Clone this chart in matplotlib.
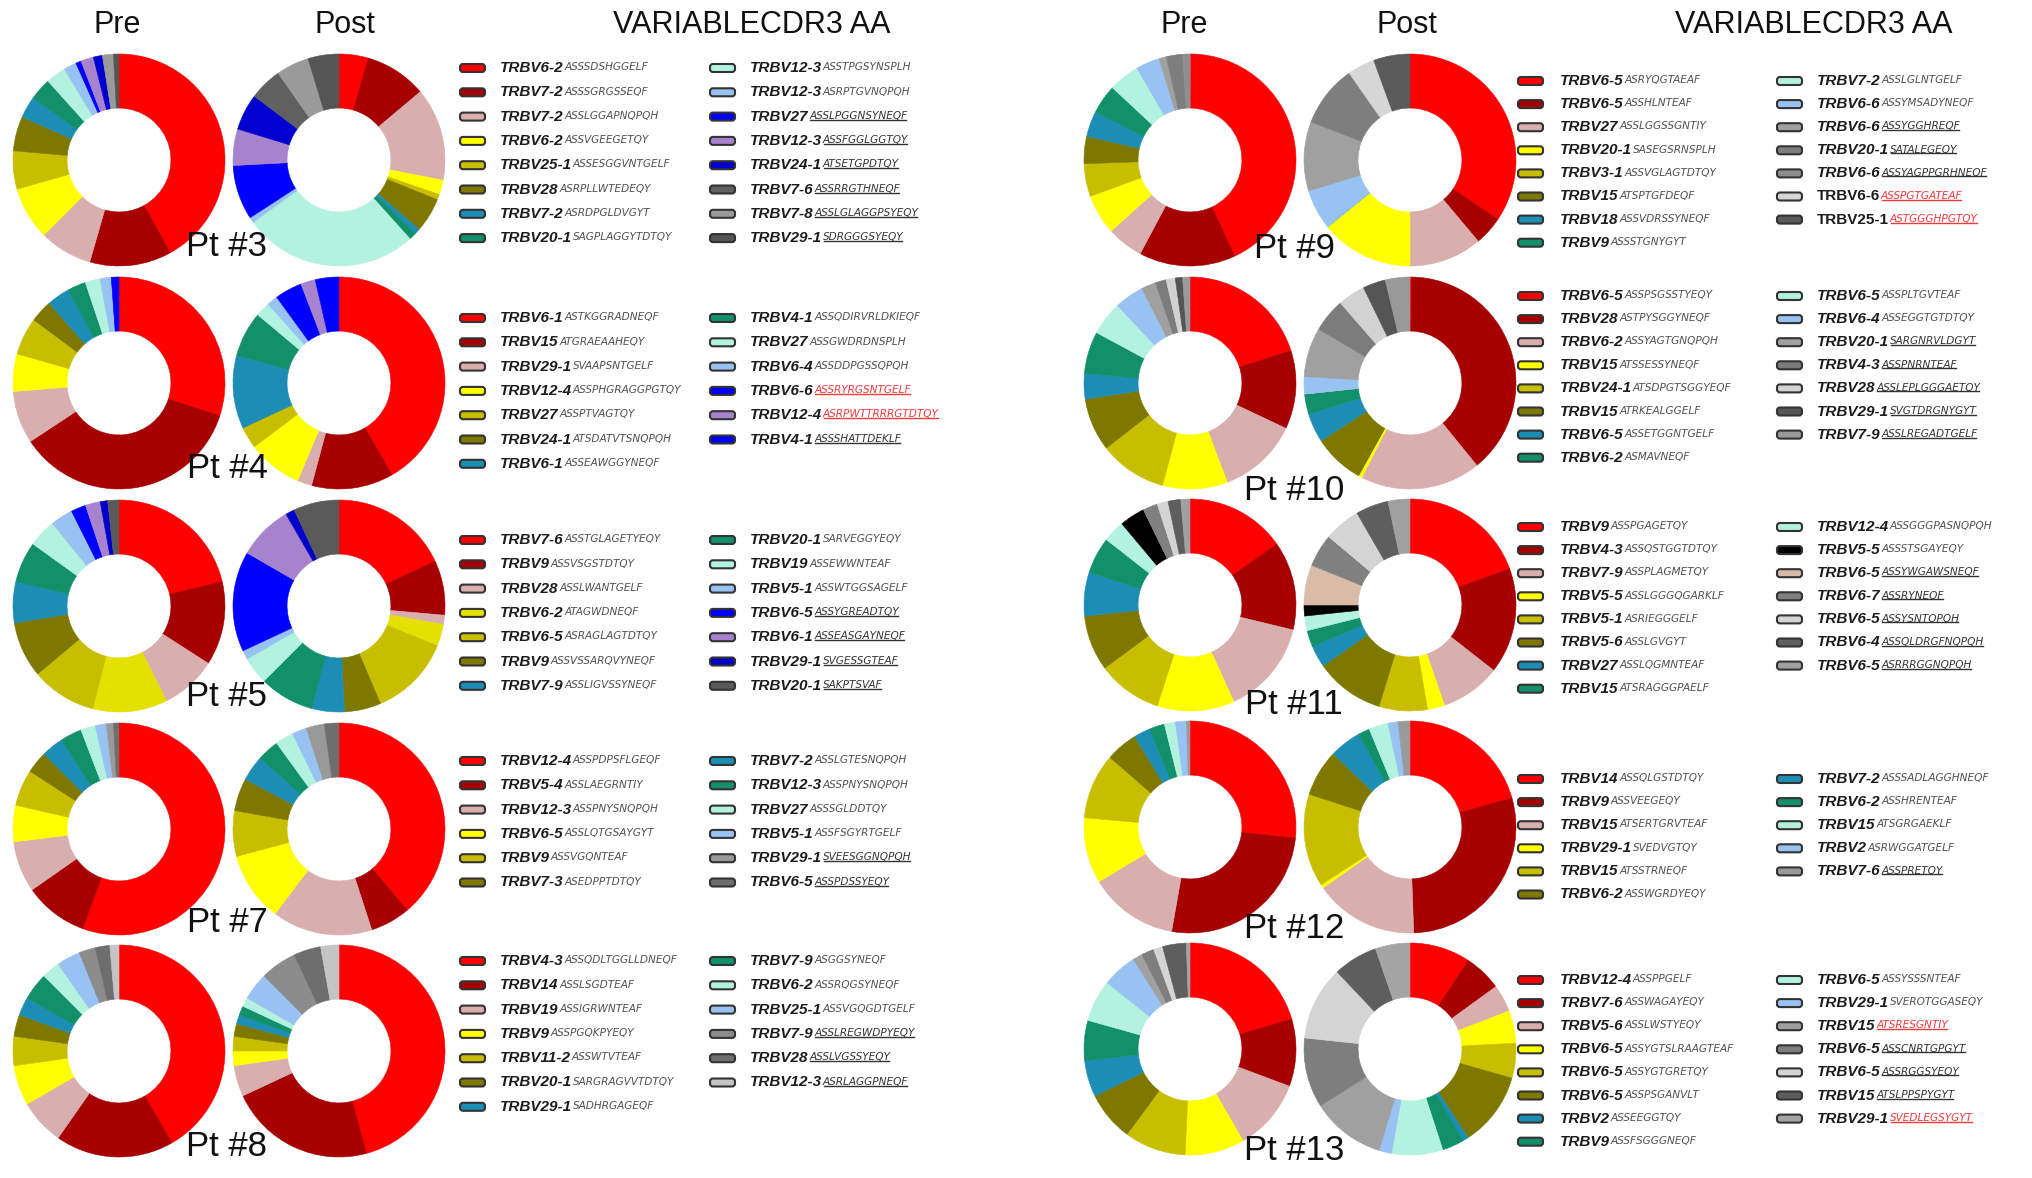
import matplotlib
matplotlib.use('Agg')
import matplotlib.pyplot as plt
from matplotlib.patches import FancyBboxPatch
from matplotlib.lines import Line2D
from matplotlib.transforms import IdentityTransform

W, H, DPI = 2032, 1178, 100

# ---------------- colours ----------------
RED, DRED, PINK, YEL, OY, OL = '#FF0000', '#A60000', '#D8AEAE', '#FFFF00', '#C8BE00', '#7E7800'
TEAL, GRN, MINT, LB, BLUE, PUR = '#1C8DB4', '#11906A', '#B2F2DE', '#98C2F2', '#0000FF', '#A683CC'
BASE10 = [RED, DRED, PINK, YEL, OY, OL, TEAL, GRN, MINT, LB]

# ---------------- data ----------------
PT3_GENES = ['TRBV6-2', 'TRBV7-2', 'TRBV7-2', 'TRBV6-2', 'TRBV25-1', 'TRBV28', 'TRBV7-2', 'TRBV20-1',
             'TRBV12-3', 'TRBV12-3', 'TRBV27', 'TRBV12-3', 'TRBV24-1', 'TRBV7-6', 'TRBV7-8', 'TRBV29-1']
PT3_CDR3 = ['ASSSDSHGGELF', 'ASSSGRGSSEQF', 'ASSLGGAPNQPQH', 'ASSVGEEGETQY', 'ASSESGGVNTGELF', 'ASRPLLWTEDEQY',
            'ASRDPGLDVGYT', 'SAGPLAGGYTDTQY', 'ASSTPGSYNSPLH', 'ASRPTGVNQPQH', 'ASSLPGGNSYNEQF', 'ASSFGGLGGTQY',
            'ATSETGPDTQY', 'ASSRRGTHNEQF', 'ASSLGLAGGPSYEQY', 'SDRGGGSYEQY']
PT3_STYLE = [''] * 10 + ['u'] * 6
PT3_COLORS = [RED, DRED, PINK, YEL, OY, OL, TEAL, GRN, MINT, LB, BLUE, PUR, '#0000D0', '#606060', '#9A9A9A', '#555555']
PT3_PRE = [151, 45, 29, 29, 21, 19, 12, 12, 11, 7, 3, 7, 5, 0, 6, 3]
PT3_POST = [16, 34, 51, 8, 3, 19, 3, 4, 96, 3, 30, 20, 20, 18, 18, 17]

PT4_GENES = ['TRBV6-1', 'TRBV15', 'TRBV29-1', 'TRBV12-4', 'TRBV27', 'TRBV24-1', 'TRBV6-1',
             'TRBV4-1', 'TRBV27', 'TRBV6-4', 'TRBV6-6', 'TRBV12-4', 'TRBV4-1']
PT4_CDR3 = ['ASTKGGRADNEQF', 'ATGRAEAAHEQY', 'SVAAPSNTGELF', 'ASSPHGRAGGPGTQY', 'ASSPTVAGTQY', 'ATSDATVTSNQPQH',
            'ASSEAWGGYNEQF', 'ASSQDIRVRLDKIEQF', 'ASSGWDRDNSPLH', 'ASSDDPGSSQPQH', 'ASSRYRGSNTGELF',
            'ASRPWTTRRRGTDTQY', 'ASSSHATTDEKLF']
PT4_STYLE = [''] * 10 + ['r', 'r', 'u']
PT4_COLORS = BASE10 + [BLUE, PUR, BLUE]
PT4_PRE = [105, 125, 28, 20, 20, 12, 12, 10, 8, 6, 0, 0, 4]
PT4_POST = [150, 45, 8, 30, 12, 0, 40, 25, 8, 6, 15, 8, 13]

PT5_GENES = ['TRBV7-6', 'TRBV9', 'TRBV28', 'TRBV6-2', 'TRBV6-5', 'TRBV9', 'TRBV7-9',
             'TRBV20-1', 'TRBV19', 'TRBV5-1', 'TRBV6-5', 'TRBV6-1', 'TRBV29-1', 'TRBV20-1']
PT5_CDR3 = ['ASSTGLAGETYEQY', 'ASSVSGSTDTQY', 'ASSLWANTGELF', 'ATAGWDNEQF', 'ASRAGLAGTDTQY', 'ASSVSSARQVYNEQF',
            'ASSLIGVSSYNEQF', 'SARVEGGYEQY', 'ASSEWWNTEAF', 'ASSWTGGSAGELF', 'ASSYGREADTQY', 'ASSEASGAYNEQF',
            'SVGESSGTEAF', 'SAKPTSVAF']
PT5_STYLE = [''] * 10 + ['u'] * 4
PT5_COLORS = [RED, DRED, PINK, '#E4E000', OY, OL, TEAL, GRN, MINT, LB, BLUE, PUR, '#0000C8', '#5A5A5A']
PT5_PRE = [75, 45, 30, 40, 35, 30, 22, 22, 15, 12, 8, 8, 4, 6]
PT5_POST = [65, 30, 5, 12, 45, 20, 18, 30, 15, 5, 55, 30, 5, 25]

PT7_GENES = ['TRBV12-4', 'TRBV5-4', 'TRBV12-3', 'TRBV6-5', 'TRBV9', 'TRBV7-3',
             'TRBV7-2', 'TRBV12-3', 'TRBV27', 'TRBV5-1', 'TRBV29-1', 'TRBV6-5']
PT7_CDR3 = ['ASSPDPSFLGEQF', 'ASSLAEGRNTIY', 'ASSPNYSNQPQH', 'ASSLQTGSAYGYT', 'ASSVGQNTEAF', 'ASEDPPTDTQY',
            'ASSLGTESNQPQH', 'ASSPNYSNQPQH', 'ASSSGLDDTQY', 'ASSFSGYRTGELF', 'SVEESGGNQPQH', 'ASSPDSSYEQY']
PT7_STYLE = [''] * 10 + ['u', 'u']
PT7_COLORS = BASE10 + ['#999999', '#6E6E6E']
PT7_PRE = [200, 35, 28, 20, 20, 12, 12, 12, 8, 6, 4, 3]
PT7_POST = [140, 22, 55, 38, 25, 18, 14, 12, 10, 8, 10, 8]

PT8_GENES = ['TRBV4-3', 'TRBV14', 'TRBV19', 'TRBV9', 'TRBV11-2', 'TRBV20-1', 'TRBV29-1',
             'TRBV7-9', 'TRBV6-2', 'TRBV25-1', 'TRBV7-9', 'TRBV28', 'TRBV12-3']
PT8_CDR3 = ['ASSQDLTGGLLDNEQF', 'ASSLSGDTEAF', 'ASSIGRWNTEAF', 'ASSPGQKPYEQY', 'ASSWTVTEAF', 'SARGRAGVVTDTQY',
            'SADHRGAGEQF', 'ASGGSYNEQF', 'ASSRQGSYNEQF', 'ASSVGQGDTGELF', 'ASSLREGWDPYEQY', 'ASSLVGSSYEQY',
            'ASRLAGGPNEQF']
PT8_STYLE = [''] * 10 + ['u'] * 3
PT8_COLORS = BASE10 + ['#8C8C8C', '#6E6E6E', '#C4C4C4']
PT8_PRE = [150, 65, 25, 22, 16, 12, 10, 15, 10, 13, 9, 8, 5]
PT8_POST = [165, 80, 17, 8, 8, 7, 5, 5, 5, 15, 20, 15, 10]

PT9_GENES = ['TRBV6-5', 'TRBV6-5', 'TRBV27', 'TRBV20-1', 'TRBV3-1', 'TRBV15', 'TRBV18', 'TRBV9',
             'TRBV7-2', 'TRBV6-6', 'TRBV6-6', 'TRBV20-1', 'TRBV6-6', 'TRBV6-6', 'TRBV25-1']
PT9_CDR3 = ['ASRYQGTAEAF', 'ASSHLNTEAF', 'ASSLGGSSGNTIY', 'SASEGSRNSPLH', 'ASSVGLAGTDTQY', 'ATSPTGFDEQF',
            'ASSVDRSSYNEQF', 'ASSSTGNYGYT', 'ASSLGLNTGELF', 'ASSYMSADYNEQF', 'ASSYGGHREQF', 'SATALEGEQY',
            'ASSYAGPPGRHNEQF', 'ASSPGTGATEAF', 'ASTGGGHPGTQY']
PT9_STYLE = [''] * 10 + ['u', 'u', 'u', 'R', 'R']
PT9_COLORS = BASE10 + ['#A0A0A0', '#7E7E7E', '#8E8E8E', '#D6D6D6', '#5A5A5A']
PT9_PRE = [155, 53, 20, 22, 18, 15, 14, 16, 17, 13, 4, 9, 4, 0, 0]
PT9_POST = [124, 16, 40, 51, 0, 0, 0, 0, 0, 22, 38, 34, 0, 15, 20]

PT10_GENES = ['TRBV6-5', 'TRBV28', 'TRBV6-2', 'TRBV15', 'TRBV24-1', 'TRBV15', 'TRBV6-5', 'TRBV6-2',
              'TRBV6-5', 'TRBV6-4', 'TRBV20-1', 'TRBV4-3', 'TRBV28', 'TRBV29-1', 'TRBV7-9']
PT10_CDR3 = ['ASSPSGSSTYEQY', 'ASTPYSGGYNEQF', 'ASSYAGTGNQPQH', 'ATSSESSYNEQF', 'ATSDPGTSGGYEQF',
             'ATRKEALGGELF', 'ASSETGGNTGELF', 'ASMAVNEQF', 'ASSPLTGVTEAF', 'ASSEGGTGTDTQY', 'SARGNRVLDGYT',
             'ASSPNRNTEAF', 'ASSLEPLGGGAETQY', 'SVGTDRGNYGYT', 'ASSLREGADTGELF']
PT10_STYLE = [''] * 10 + ['u'] * 5
PT10_COLORS = BASE10 + ['#A0A0A0', '#7C7C7C', '#D2D2D2', '#555555', '#999999']
PT10_PRE = [72, 43, 44, 35.5, 37, 29, 14, 23, 18.5, 16, 8, 6, 5, 4, 4]
PT10_POST = [1, 140, 66, 2, 0, 28, 16, 11, 0, 9.5, 27, 18.5, 15, 12.5, 13.5]

PT11_GENES = ['TRBV9', 'TRBV4-3', 'TRBV7-9', 'TRBV5-5', 'TRBV5-1', 'TRBV5-6', 'TRBV27', 'TRBV15',
              'TRBV12-4', 'TRBV5-5', 'TRBV6-5', 'TRBV6-7', 'TRBV6-5', 'TRBV6-4', 'TRBV6-5']
PT11_CDR3 = ['ASSPGAGETQY', 'ASSQSTGGTDTQY', 'ASSPLAGMETQY', 'ASSLGGGQGARKLF', 'ASRIEGGGELF', 'ASSLGVGYT',
             'ASSLQGMNTEAF', 'ATSRAGGGPAELF', 'ASSGGGPASNQPQH', 'ASSSTSGAYEQY', 'ASSYWGAWSNEQF', 'ASSRYNEQF',
             'ASSYSNTQPQH', 'ASSQLDRGFNQPQH', 'ASRRRGGNQPQH']
PT11_STYLE = [''] * 10 + ['u'] * 5
PT11_COLORS = [RED, DRED, PINK, YEL, OY, OL, TEAL, GRN, MINT, '#000000',
               '#D8BCA8', '#808080', '#D4D4D4', '#5E5E5E', '#A0A0A0']
PT11_PRE = [55, 48.6, 52, 42.4, 35.5, 30.5, 24, 20, 12, 14, 0, 8, 6, 7, 5]
PT11_POST = [70, 58, 33, 9.5, 26.5, 38, 12, 9, 8, 6, 22, 18, 20, 18, 12]

PT12_GENES = ['TRBV14', 'TRBV9', 'TRBV15', 'TRBV29-1', 'TRBV15', 'TRBV6-2',
              'TRBV7-2', 'TRBV6-2', 'TRBV15', 'TRBV2', 'TRBV7-6']
PT12_CDR3 = ['ASSQLGSTDTQY', 'ASSVEEGEQY', 'ATSERTGRVTEAF', 'SVEDVGTQY', 'ATSSTRNEQF', 'ASSWGRDYEQY',
             'ASSSADLAGGHNEQF', 'ASSHRENTEAF', 'ATSGRGAEKLF', 'ASRWGGATGELF', 'ASSPRETQY']
PT12_STYLE = [''] * 10 + ['u']
PT12_COLORS = BASE10 + ['#9A9A9A']
PT12_PRE = [96, 94, 49, 36, 36, 17.6, 9, 8.4, 6, 6, 2]
PT12_POST = [74, 104, 57, 2, 51, 25.6, 17.4, 6.4, 10.6, 5.5, 6.5]

PT13_GENES = ['TRBV12-4', 'TRBV7-6', 'TRBV5-6', 'TRBV6-5', 'TRBV6-5', 'TRBV6-5', 'TRBV2', 'TRBV9',
              'TRBV6-5', 'TRBV29-1', 'TRBV15', 'TRBV6-5', 'TRBV6-5', 'TRBV15', 'TRBV29-1']
PT13_CDR3 = ['ASSPPGELF', 'ASSWAGAYEQY', 'ASSLWSTYEQY', 'ASSYGTSLRAAGTEAF', 'ASSYGTGRETQY', 'ASSPSGANVLT',
             'ASSEEGGTQY', 'ASSFSGGGNEQF', 'ASSYSSSNTEAF', 'SVEROTGGASEQY', 'ATSRESGNTIY', 'ASSCNRTGPGYT',
             'ASSRGGSYEQY', 'ATSLPPSPYGYT', 'SVEDLEGSYGYT']
PT13_STYLE = [''] * 10 + ['r', 'u', 'u', 'u', 'r']
PT13_COLORS = BASE10 + ['#A0A0A0', '#7E7E7E', '#D4D4D4', '#5E5E5E', '#A4A4A4']
PT13_PRE = [73.5, 37, 39.4, 32.7, 33.8, 27.2, 20, 22, 23, 19, 5.3, 7, 5, 13, 2]
PT13_POST = [33.4, 20.6, 15, 17.8, 19.2, 40.8, 3.2, 12, 28, 7, 40.6, 38.4, 40.6, 24.4, 19]

PT_LABELS = ['Pt #3', 'Pt #4', 'Pt #5', 'Pt #7', 'Pt #8', 'Pt #9', 'Pt #10', 'Pt #11', 'Pt #12', 'Pt #13']
HEADERS = ['Pre', 'Post', 'VARIABLECDR3 AA']

PANELS = [
    (PT3_GENES, PT3_CDR3, PT3_STYLE, PT3_COLORS, PT3_PRE, PT3_POST),
    (PT4_GENES, PT4_CDR3, PT4_STYLE, PT4_COLORS, PT4_PRE, PT4_POST),
    (PT5_GENES, PT5_CDR3, PT5_STYLE, PT5_COLORS, PT5_PRE, PT5_POST),
    (PT7_GENES, PT7_CDR3, PT7_STYLE, PT7_COLORS, PT7_PRE, PT7_POST),
    (PT8_GENES, PT8_CDR3, PT8_STYLE, PT8_COLORS, PT8_PRE, PT8_POST),
    (PT9_GENES, PT9_CDR3, PT9_STYLE, PT9_COLORS, PT9_PRE, PT9_POST),
    (PT10_GENES, PT10_CDR3, PT10_STYLE, PT10_COLORS, PT10_PRE, PT10_POST),
    (PT11_GENES, PT11_CDR3, PT11_STYLE, PT11_COLORS, PT11_PRE, PT11_POST),
    (PT12_GENES, PT12_CDR3, PT12_STYLE, PT12_COLORS, PT12_PRE, PT12_POST),
    (PT13_GENES, PT13_CDR3, PT13_STYLE, PT13_COLORS, PT13_PRE, PT13_POST),
]

# ---------------- layout ----------------
R = 106
SIDES = [
    dict(donut_x=(119, 339), row_y=[160, 383, 606, 829, 1051], leg_y0=[68, 318, 540, 761, 961], dy=24.3,
         patch_x=(460, 710), text_x=(500, 750), lab_x=227, lab_y=[247, 469, 696, 923, 1147],
         head_x=(117, 345, 752)),
    dict(donut_x=(1190, 1410), row_y=[160, 383, 605, 827, 1049], leg_y0=[81, 296, 527, 779, 980], dy=23.1,
         patch_x=(1518, 1777), text_x=(1560, 1817), lab_x=1294, lab_y=[249, 490, 704, 929, 1151],
         head_x=(1184, 1407, 1814)),
]

fig = plt.figure(figsize=(W / DPI, H / DPI), dpi=DPI)
fig.patch.set_facecolor('white')

# donuts
for i, (genes, cdr3, style, colors, pre, post) in enumerate(PANELS):
    side = SIDES[i // 5]
    row = i % 5
    cy = side['row_y'][row]
    for cx, vals in zip(side['donut_x'], (pre, post)):
        a = fig.add_axes([(cx - R) / W, (H - cy - R) / H, 2 * R / W, 2 * R / H])
        wedges, _ = a.pie(vals, colors=colors, startangle=90, counterclock=False, radius=1.0,
                          wedgeprops=dict(width=0.51, linewidth=0.4))
        for w in wedges:
            w.set_edgecolor(w.get_facecolor())
        a.set_xlim(-1, 1)
        a.set_ylim(-1, 1)
        a.set_aspect('equal')
        a.axis('off')

# overlay for text and legends
ax0 = fig.add_axes([0, 0, 1, 1], zorder=10)
ax0.set_xlim(0, W)
ax0.set_ylim(H, 0)
ax0.axis('off')
ax0.patch.set_alpha(0)

SANS = ['Liberation Sans', 'DejaVu Sans']
for side in SIDES:
    for hx, txt in zip(side['head_x'], HEADERS):
        ax0.text(hx, 25, txt, fontsize=22, ha='center', va='center', family=SANS, color='#111111')

underline_texts = []
for i, (genes, cdr3, style, colors, pre, post) in enumerate(PANELS):
    side = SIDES[i // 5]
    row = i % 5
    n = len(genes)
    ncol1 = (n + 1) // 2
    ax0.text(side['lab_x'], side['lab_y'][row], PT_LABELS[i], fontsize=25, ha='center', va='center',
             family=SANS, color='#111111')
    for k in range(n):
        col = 0 if k < ncol1 else 1
        r = k if k < ncol1 else k - ncol1
        y = side['leg_y0'][row] + r * side['dy']
        px = side['patch_x'][col]
        ax0.add_patch(FancyBboxPatch((px, y - 4), 25, 8, boxstyle='round,pad=0,rounding_size=3',
                                     fc=colors[k], ec='#333333', lw=1.5))
        st = style[k]
        gt = ax0.text(side['text_x'][col], y, genes[k], fontsize=11, fontweight='bold',
                      fontstyle='normal' if st == 'R' else 'italic', family=SANS,
                      ha='left', va='center', color='#1c1c1c')
        ccol = '#F03A3A' if st in ('r', 'R') else ('#333333' if st == 'u' else '#505050')
        ct = ax0.annotate(cdr3[k], xy=(1, 0), xycoords=gt, xytext=(0.5, 2.0), textcoords='offset points',
                          fontsize=7.6, fontstyle='italic', family=['DejaVu Sans'], ha='left', va='bottom',
                          color=ccol)
        if st in ('u', 'r', 'R'):
            underline_texts.append((ct, ccol))

fig.canvas.draw()
renderer = fig.canvas.get_renderer()
for ct, ccol in underline_texts:
    bb = ct.get_window_extent(renderer)
    fig.add_artist(Line2D([bb.x0 + 1, bb.x1 - 1], [bb.y0 + 1.2, bb.y0 + 1.2], transform=IdentityTransform(),
                          color=ccol, lw=1.0, zorder=20))

fig.savefig('out.png', dpi=DPI, facecolor='white')
